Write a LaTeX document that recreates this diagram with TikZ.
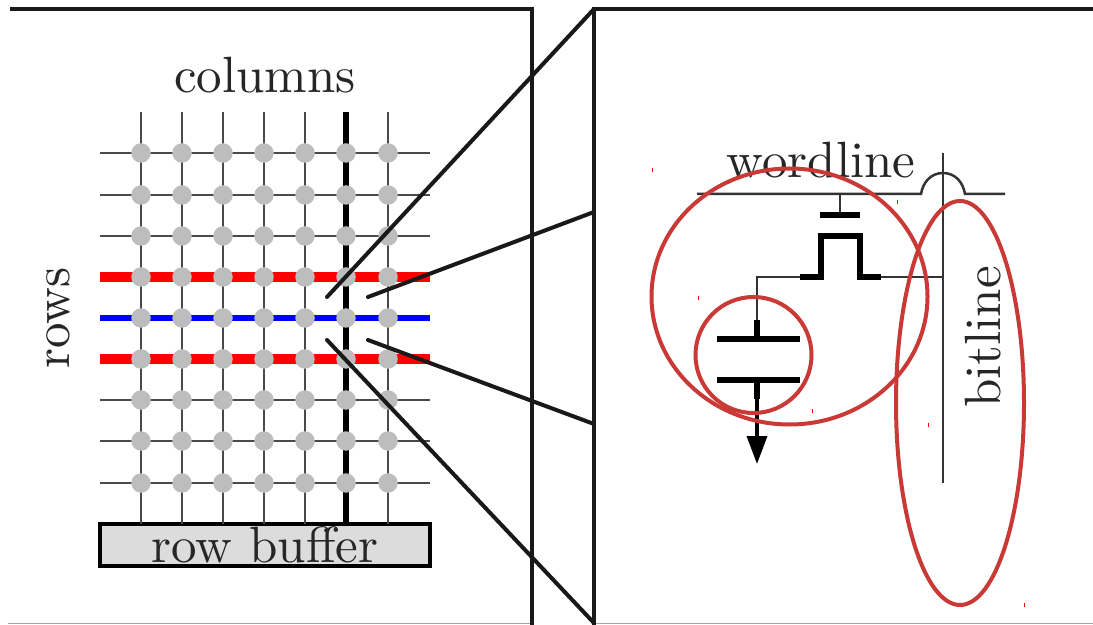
\documentclass[tikz,border=0pt]{standalone}
\usepackage{xcolor}
\usetikzlibrary{arrows.meta, calc}
\definecolor{ellred}{HTML}{C93A36}
\definecolor{celgray}{HTML}{BDBDBD}
\definecolor{bufgray}{HTML}{DCDCDC}
\definecolor{gridgray}{HTML}{4A4A4A}
\tikzset{
  LBL/.style={font=\fontsize{10.2}{12}\selectfont, text=black!85, inner sep=0pt},
  FRM/.style={line width=0.8pt, color=black!90},
  GRD/.style={line width=0.5pt, color=gridgray},
  CEL/.style={circle, fill=celgray, inner sep=0pt, minimum size=3.9pt},
  ROWL/.style={line width=#1, color=red},
  ZOOM/.style={line width=0.8pt, line cap=round, color=black!90},
  WIRE/.style={line width=0.5pt, color=black!80},
  PLT/.style={line width=1.15pt, color=black},
  ELL/.style={draw=ellred, line width=0.8pt},
  TCK/.style={line width=0.2pt, color=red},
}
\begin{document}
\begin{tikzpicture}[x=0.2pt, y=-0.2pt]
  \useasboundingbox (0,0) rectangle (1093,625);
  \draw[line width=0.2pt, color=black!35] (8,623) -- (532,623);
  \draw[line width=0.2pt, color=black!35] (594,623) -- (1093,623);
  \node[LBL] (columns) at (265,75) {columns};
  \node[LBL, rotate=90] (rows) at (58,318) {rows};
  \foreach \y in {153,195,236,400,441,483}{
    \draw[GRD] (100,\y) -- (430,\y);}
  \draw[ROWL=2pt] (100,277) -- (430,277);
  \draw[ROWL=1.1pt, color=blue] (100,318) -- (430,318);
  \draw[ROWL=2pt] (100,359) -- (430,359);
  \node[LBL, draw=black, fill=bufgray, line width=0.8pt, minimum width=66pt,
        minimum height=8.4pt] (rowbuf) at (265,545) {row buffer};
  \foreach \x in {141,182,223,264,305,388}{
    \draw[GRD] (\x,112) -- (\x,524);}
  \draw[line width=1.1pt, color=black] (346,112) -- (346,524);
  \foreach \x [count=\i] in {141,182,223,264,305,346,388}{
    \foreach \y [count=\j] in {153,195,236,277,318,359,400,441,483}{
      \node[CEL] (c\i\j) at (\x,\y) {};}}
  \coordinate (lefttl) at (10,9);
  \coordinate (lefttr) at (532,9);
  \coordinate (leftbr) at (532,625);
  \coordinate (righttl) at (594,9);
  \coordinate (righttr) at (1093,9);
  \coordinate (rightbl) at (594,625);
  \draw[FRM] (lefttl) -- (lefttr) -- (leftbr);
  \draw[FRM] (righttr) -- (righttl) -- (rightbl);
  \draw[ZOOM] (327,297) -- (righttl);
  \draw[ZOOM] (368,297) -- (594,212);
  \draw[ZOOM] (368,340) -- (594,424);
  \draw[ZOOM] (327,340) -- (594,623);
  \node[LBL] (wordline) at (821,160) {wordline};
  \node[LBL, rotate=90] (bitline) at (983,337) {bitline};
  \draw[WIRE] (697,194) -- (921,194) .. controls (923,182) and (931,173) .. (943,173)
     .. controls (955,173) and (963,182) .. (965,194) -- (1005,194);
  \draw[WIRE] (943,153) -- (943,483);
  \draw[WIRE] (840,194) -- (840,215);
  \draw[PLT] (820,215) -- (860,215);
  \draw[PLT, line join=miter] (800,277) -- (821,277) -- (821,236) -- (860,236) -- (860,277) -- (881,277);
  \draw[WIRE] (881,277) -- (943,277);
  \draw[WIRE] (800,277) -- (757,277) -- (757,320);
  \draw[PLT] (757,320) -- (757,339);
  \draw[PLT] (717,339) -- (800,339);
  \draw[PLT] (717,380) -- (800,380);
  \draw[PLT] (757,380) -- (757,399);
  \draw[line width=0.7pt, -{Triangle[length=5.6pt,width=4pt]}] (757,399) -- (757,464);
  \draw[ELL] (789.5,296.5) ellipse [x radius=138, y radius=128];
  \draw[ELL] (753.5,355) ellipse [x radius=58, y radius=58];
  \draw[ELL] (960,403) ellipse [x radius=64, y radius=202];
  \foreach \x/\y in {652/170, 897/202, 698/298, 812/411, 928/425, 1024/605}{
    \draw[TCK] (\x,\y-2) -- (\x,\y+2);}
\end{tikzpicture}
\end{document}
